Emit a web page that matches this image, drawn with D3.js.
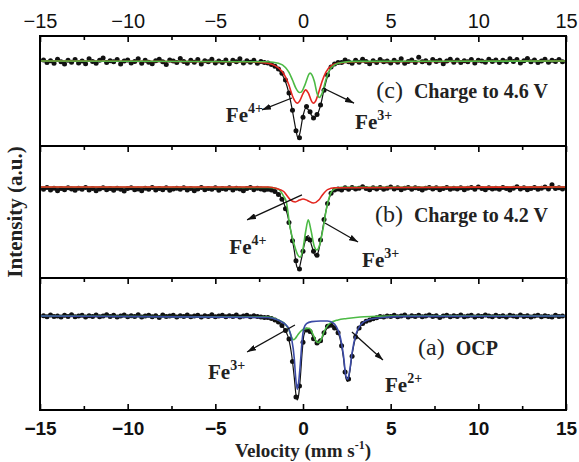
<!DOCTYPE html>
<html>
<head>
<meta charset="utf-8">
<script src="https://cdn.jsdelivr.net/npm/d3@7"></script>
<style>
body { margin: 0; background: #fff; }
.tick text { font-family: "Liberation Sans", Arial, sans-serif; }
.serif { font-family: "Liberation Serif", "Times New Roman", serif; }
</style>
</head>
<body>
<div id="chart"></div>
<script>
// channel velocities (mm/s)
var velocity = [
  -14.8,-14.6,-14.4,-14.2,-14,-13.8,-13.6,-13.4,-13.2,-13,
  -12.8,-12.6,-12.4,-12.2,-12,-11.8,-11.6,-11.4,-11.2,-11,
  -10.8,-10.6,-10.4,-10.2,-10,-9.8,-9.6,-9.4,-9.2,-9,
  -8.8,-8.6,-8.4,-8.2,-8,-7.8,-7.6,-7.4,-7.2,-7,
  -6.8,-6.6,-6.4,-6.2,-6,-5.8,-5.6,-5.4,-5.2,-5,
  -4.8,-4.6,-4.4,-4.2,-4,-3.8,-3.6,-3.4,-3.2,-3,
  -2.8,-2.6,-2.4,-2.2,-2,-1.8,-1.6,-1.4,-1.2,-1,
  -0.8,-0.6,-0.4,-0.2,0,0.2,0.4,0.6,0.8,1,
  1.2,1.4,1.6,1.8,2,2.2,2.4,2.6,2.8,3,
  3.2,3.4,3.6,3.8,4,4.2,4.4,4.6,4.8,5,
  5.2,5.4,5.6,5.8,6,6.2,6.4,6.6,6.8,7,
  7.2,7.4,7.6,7.8,8,8.2,8.4,8.6,8.8,9,
  9.2,9.4,9.6,9.8,10,10.2,10.4,10.6,10.8,11,
  11.2,11.4,11.6,11.8,12,12.2,12.4,12.6,12.8,13,
  13.2,13.4,13.6,13.8,14,14.2,14.4,14.6,14.8
];

// measured transmission (%), (c) charged to 4.6 V
var dotsC = [
  100.3,99.6,100.1,99.4,100.5,99.8,99.2,100.2,99.7,100.4,
  99.5,100.0,99.3,100.6,99.9,99.4,100.2,100.8,99.6,100.1,
  99.8,100.4,99.2,100.0,100.3,99.5,99.9,100.6,99.4,100.2,
  99.7,99.3,100.1,100.5,99.8,99.1,100.3,100.0,99.6,100.7,
  99.9,99.4,100.2,99.7,100.4,99.2,100.1,99.8,100.5,99.5,
  100.0,99.6,100.3,99.3,100.2,99.8,100.6,99.5,100.1,99.7,
  100.2,99.4,99.9,99.6,99.5,99.1,98.6,97.9,96.8,95.0,
  91.6,87.0,81.6,79.8,85.2,88.0,86.6,85.0,85.9,88.4,
  92.3,96.3,98.4,99.2,99.6,99.6,100.3,99.8,99.4,100.2,
  99.7,100.5,99.9,99.3,100.1,99.6,100.4,99.8,100.0,99.5,
  100.2,99.7,100.6,99.4,99.9,100.3,99.6,101.0,99.8,100.1,
  99.5,100.4,99.9,100.2,99.3,100.0,100.5,99.7,100.3,99.6,
  100.1,99.8,100.4,99.5,100.2,100.0,99.7,100.5,99.9,100.3,
  99.6,100.2,99.8,100.6,99.9,100.4,99.5,100.1,100.7,99.8,
  100.3,99.6,100.0,100.5,99.7,100.2,99.9,100.4,99.8
];

// (b) charged to 4.2 V
var dotsB = [
  99.4,99.9,99.2,99.7,99.0,99.6,99.3,99.8,99.5,99.1,
  99.7,99.4,99.9,99.2,99.6,99.0,99.5,99.8,99.3,99.6,
  99.1,99.7,99.4,98.9,99.6,99.8,99.3,99.5,99.0,99.7,
  99.4,99.9,99.2,99.6,99.3,99.8,99.1,99.5,99.7,99.4,
  99.8,99.2,99.6,99.0,99.5,99.9,99.3,99.6,99.4,99.8,
  99.1,99.6,99.4,99.8,99.2,99.7,99.5,99.0,99.6,99.9,
  99.3,99.7,99.5,99.2,99.4,99.2,98.8,98.0,96.7,94.2,
  90.5,85.6,80.2,78.0,82.8,86.2,85.8,82.8,81.7,85.8,
  91.3,95.6,98.3,99.2,99.5,99.2,99.8,99.4,99.9,99.5,
  99.7,100.1,99.6,99.3,99.8,99.5,99.9,99.4,99.7,100.0,
  99.5,99.8,99.3,99.7,99.9,99.4,99.8,99.6,99.2,99.7,
  99.9,99.5,99.8,99.3,99.6,99.9,99.4,99.7,99.5,99.8,
  99.3,99.7,99.9,99.4,100.0,99.6,99.3,99.8,99.5,99.7,
  99.4,99.9,99.6,99.2,99.7,100.1,99.5,99.8,99.3,99.6,
  99.9,99.4,99.7,100.0,99.5,100.6,99.6,99.8,99.5
];

// (a) OCP
var dotsA = [
  100.1,99.8,100.3,99.9,100.0,99.7,100.2,99.9,100.4,99.8,
  100.0,100.2,99.7,100.1,99.9,100.3,99.8,100.0,100.4,99.9,
  100.2,99.7,100.0,100.3,99.8,100.1,99.9,100.4,99.7,100.0,
  100.2,99.8,100.1,99.6,100.3,99.9,100.0,100.2,99.7,100.1,
  99.9,100.3,99.8,100.0,100.2,99.7,100.1,99.9,100.4,99.8,
  100.0,100.2,99.8,100.1,99.9,100.3,99.7,100.0,100.2,99.8,
  100.1,99.9,99.7,99.6,99.6,99.3,98.9,98.3,97.3,95.9,
  93.4,87.0,76.8,80.0,92.5,96.0,95.6,93.5,92.3,92.9,
  95.2,97.1,97.4,96.6,95.2,91.5,84.0,82.0,88.5,94.0,
  96.6,97.9,98.5,98.9,99.2,99.5,99.9,99.7,100.0,99.9,
  100.2,99.8,100.0,100.3,99.7,100.1,99.9,100.2,99.8,100.0,
  100.3,99.9,100.1,99.6,100.0,100.2,99.8,100.1,99.9,100.3,
  99.8,100.0,100.2,99.7,100.1,99.9,100.3,100.0,99.8,100.2,
  99.9,100.1,99.7,100.2,100.0,99.8,100.3,99.9,100.1,99.7,
  100.0,100.2,99.8,100.1,99.9,99.7,100.2,99.9,100.0
];

// fitted curves, [velocity, transmission %]
var fitC = [[-15,100],[-3,99.8],[-2,99.4],[-1.6,98.6],[-1.2,96.5],[-1,94.6],[-0.8,91.4],[-0.6,86.8],[-0.4,81.8],[-0.3,79.8],[-0.2,80.6],[0,85.5],[0.15,87.5],[0.3,87.2],[0.5,85.6],[0.65,85],[0.8,85.7],[1,88.3],[1.2,92.5],[1.4,96],[1.6,98.2],[2,99.3],[3,99.8],[15,100]];
var redC = [[-15,100],[-3,99.8],[-2,99.4],[-1.6,98.8],[-1.2,97.3],[-1,95.8],[-0.8,93.6],[-0.6,90.8],[-0.4,89.1],[-0.3,88.9],[-0.2,89.4],[0,91.4],[0.15,92.4],[0.3,91.6],[0.5,89.3],[0.6,88.9],[0.7,89.3],[0.9,91.8],[1.1,94.8],[1.3,97],[1.6,98.7],[2,99.4],[3,99.8],[15,100]];
var greenC = [[-15,100],[-2,99.8],[-1.4,99.4],[-1,98.3],[-0.8,97],[-0.6,95],[-0.4,92.8],[-0.2,91.7],[-0.1,91.8],[0.1,93.6],[0.4,96.8],[0.65,94.6],[0.8,91.5],[0.93,90.4],[1.1,91.6],[1.3,95],[1.5,97.5],[1.8,99],[2.2,99.6],[3,99.9],[15,100]];

var fitB = [[-15,99.7],[-3,99.7],[-2,99.5],[-1.6,98.9],[-1.3,97.6],[-1.1,95.8],[-0.9,92.8],[-0.7,88.3],[-0.5,83],[-0.35,78.6],[-0.25,78],[-0.1,80.5],[0.1,85],[0.3,87],[0.5,84.2],[0.7,81.6],[0.85,82.3],[1.05,86.8],[1.25,92.2],[1.45,96.3],[1.7,98.7],[2.1,99.5],[3,99.7],[15,99.7]];
var redB = [[-15,100],[-2,100],[-1.5,99.6],[-1.1,98.8],[-0.9,97.6],[-0.7,96.5],[-0.44,96],[-0.2,96.5],[0,96.8],[0.25,96.4],[0.6,95.7],[0.9,96.5],[1.1,97.8],[1.4,99.3],[1.8,99.8],[15,100]];
var greenB = [[-15,100],[-2,99.9],[-1.5,99.6],[-1.3,99],[-1.1,97.5],[-0.95,96],[-0.75,89.5],[-0.5,84.5],[-0.3,81.8],[-0.16,81.2],[0,83.5],[0.15,88],[0.3,91.2],[0.45,88.5],[0.65,84],[0.8,83.1],[0.95,84.5],[1.15,89],[1.35,94.5],[1.55,98],[1.8,99.5],[2.2,99.9],[15,100]];

var fitA = [[-15,100],[-3,99.7],[-2,99.4],[-1.5,98.5],[-1.2,97.2],[-1,95.8],[-0.8,93.2],[-0.65,89],[-0.5,82.5],[-0.4,77.5],[-0.33,76],[-0.25,77.3],[-0.15,82.5],[-0.05,89.5],[0.05,94.5],[0.2,96],[0.35,96],[0.55,94.3],[0.75,92.5],[0.87,92.2],[1,92.7],[1.2,95],[1.45,97],[1.65,97.4],[1.9,96.3],[2.1,93.8],[2.3,88.3],[2.45,82.2],[2.55,81.3],[2.65,83.5],[2.8,89],[3,94],[3.3,97.3],[3.7,98.7],[4.5,99.5],[6,99.9],[15,100]];
var greenA = [[-15,100],[-2,99.7],[-1.5,99.1],[-1.2,98.4],[-1,97.6],[-0.8,96],[-0.65,94],[-0.55,93.2],[-0.45,93.5],[-0.3,94.6],[-0.1,95.8],[0.15,96.4],[0.35,96.5],[0.55,95],[0.75,92.8],[0.87,92.4],[1,93],[1.2,95.5],[1.5,97.8],[2,98.9],[2.5,99.3],[3,99.6],[3.5,99.8],[5,100],[15,100]];
var blueA = [[-15,100],[-2,99.6],[-1.5,99],[-1.2,98.3],[-1,97.6],[-0.8,96.2],[-0.65,93.5],[-0.5,88],[-0.42,82.5],[-0.33,79],[-0.25,81],[-0.15,86.5],[-0.05,93],[0.05,96.5],[0.2,97.8],[0.5,98.4],[1,98.6],[1.4,98.6],[1.7,98.1],[1.9,97],[2.1,94.5],[2.3,89],[2.45,82.8],[2.55,81.9],[2.65,84],[2.8,89.5],[3,94.5],[3.3,97.6],[3.7,98.9],[4.5,99.6],[6,99.9],[15,100]];

var majorTicks = [-15, -10, -5, 0, 5, 10, 15];
var minorTicks = [-12.5, -7.5, -2.5, 2.5, 7.5, 12.5];

var green = "#4cba45", red = "#e3261f", blue = "#3b4aa6";

var width = 579, height = 462;
var svg = d3.select("#chart").append("svg")
  .attr("width", width)
  .attr("height", height);

var defs = svg.append("defs");
defs.append("marker")
  .attr("id", "arrow")
  .attr("viewBox", "0 0 9 6")
  .attr("refX", 9).attr("refY", 3)
  .attr("markerWidth", 9).attr("markerHeight", 6)
  .attr("markerUnits", "userSpaceOnUse")
  .attr("orient", "auto")
  .append("path")
  .attr("d", "M0,0L9,3L0,6Z")
  .attr("fill", "#111");

var xScale = d3.scaleLinear().domain([-15, 15]).range([40, 566]);

var panels = [
  { top: 36, bottom: 146, domain: [77.6, 106.6], dots: dotsC,
    curves: [[fitC, "#111", 1.2], [redC, red, 1.6], [greenC, green, 1.6]],
    tag: "(c)", title: "Charge to 4.6 V", tagAt: [13.97, 90.3],
    labels: [{ t: "4+", at: [-4.4, 84.0], from: [-0.63, 90.25], to: [-2.34, 87.1] },
             { t: "3+", at: [2.97, 82.0], from: [1.14, 92.9], to: [2.91, 88.9] }] },
  { top: 146, bottom: 278, domain: [75.6, 111], dots: dotsB,
    curves: [[fitB, "#111", 1.2], [greenB, green, 1.6], [redB, red, 1.6]],
    tag: "(b)", title: "Charge to 4.2 V", tagAt: [13.97, 90.6],
    labels: [{ t: "4+", at: [-4.2, 82.0], from: [-0.06, 97.9], to: [-3.19, 91.2] },
             { t: "3+", at: [3.37, 78.6], from: [1.25, 90.35], to: [3.14, 85.25] }] },
  { top: 278, bottom: 410, domain: [73.1, 110.9], dots: dotsA,
    curves: [[fitA, "#111", 1.2], [greenA, green, 1.6], [blueA, blue, 1.6]],
    tag: "(a)", title: "OCP", tagAt: [11.12, 88.85],
    labels: [{ t: "3+", at: [-5.42, 82.0], from: [-0.46, 97.44], to: [-3.19, 89.7] },
             { t: "2+", at: [4.68, 78.3], from: [2.79, 95.44], to: [4.56, 87.4] }] }
];

panels.forEach(function(p, i) {
  var yScale = d3.scaleLinear().domain(p.domain).range([p.bottom, p.top]);
  var g = svg.append("g");

  var line = d3.line()
    .x(function(d) { return xScale(d[0]); })
    .y(function(d) { return yScale(d[1]); })
    .curve(d3.curveMonotoneX);

  // data points
  g.selectAll("circle")
    .data(p.dots)
    .enter()
    .append("circle")
    .attr("cx", function(d, j) { return xScale(velocity[j]); })
    .attr("cy", function(d) { return yScale(d); })
    .attr("r", 2.5)
    .attr("fill", "#111");

  p.curves.forEach(function(c) {
    g.append("path")
      .attr("d", line(c[0]))
      .attr("fill", "none")
      .attr("stroke", c[1])
      .attr("stroke-width", c[2]);
  });

  // ticks on the top edge of each panel, pointing inward
  g.append("g")
    .attr("transform", "translate(0," + p.top + ")")
    .call(d3.axisTop(xScale).tickValues(majorTicks).tickSize(-6)
      .tickPadding(8).tickFormat(i == 0 ? d3.format("d") : ""))
    .call(function(a) {
      a.select(".domain").remove();
      a.selectAll("line").attr("stroke", "#000").attr("stroke-width", 1.6);
      a.selectAll("text").attr("font-size", 20).attr("fill", "#111");
    });
  g.append("g")
    .attr("transform", "translate(0," + p.top + ")")
    .call(d3.axisTop(xScale).tickValues(minorTicks).tickSize(-4).tickFormat(""))
    .call(function(a) {
      a.select(".domain").remove();
      a.selectAll("line").attr("stroke", "#000").attr("stroke-width", 1.6);
    });

  // panel title
  var tt = g.append("text")
    .attr("class", "serif")
    .attr("x", xScale(p.tagAt[0]))
    .attr("y", yScale(p.tagAt[1]))
    .attr("text-anchor", "end")
    .attr("fill", "#222");
  tt.append("tspan").attr("font-size", 24).text(p.tag);
  tt.append("tspan").attr("dx", 11).attr("font-size", 20).attr("font-weight", "bold").text(p.title);

  // iron site labels with arrows
  p.labels.forEach(function(l) {
    var t = g.append("text")
      .attr("class", "serif")
      .attr("x", xScale(l.at[0]))
      .attr("y", yScale(l.at[1]))
      .attr("font-weight", "bold")
      .attr("font-size", 21)
      .attr("fill", "#222");
    t.append("tspan").text("Fe");
    t.append("tspan").attr("dy", -9).attr("font-size", 14).text(l.t);

    g.append("line")
      .attr("x1", xScale(l.from[0])).attr("y1", yScale(l.from[1]))
      .attr("x2", xScale(l.to[0])).attr("y2", yScale(l.to[1]))
      .attr("stroke", "#111")
      .attr("stroke-width", 1.3)
      .attr("marker-end", "url(#arrow)");
  });
});

// bottom axis of panel (a)
var last = panels[2];
svg.append("g")
  .attr("transform", "translate(0," + last.bottom + ")")
  .call(d3.axisBottom(xScale).tickValues(majorTicks).tickSize(-6).tickPadding(12).tickFormat(d3.format("d")))
  .call(function(a) {
    a.select(".domain").remove();
    a.selectAll("line").attr("stroke", "#000").attr("stroke-width", 1.6);
    a.selectAll("text").attr("font-size", 19).attr("font-weight", "bold").attr("fill", "#111");
  });
svg.append("g")
  .attr("transform", "translate(0," + last.bottom + ")")
  .call(d3.axisBottom(xScale).tickValues(minorTicks).tickSize(-4).tickFormat(""))
  .call(function(a) {
    a.select(".domain").remove();
    a.selectAll("line").attr("stroke", "#000").attr("stroke-width", 1.6);
  });

// frame and panel dividers
svg.append("rect")
  .attr("x", xScale(-15)).attr("y", panels[0].top)
  .attr("width", xScale(15) - xScale(-15))
  .attr("height", last.bottom - panels[0].top)
  .attr("fill", "none")
  .attr("stroke", "#000")
  .attr("stroke-width", 2);
[panels[1].top, panels[2].top].forEach(function(y) {
  svg.append("line")
    .attr("x1", xScale(-15)).attr("x2", xScale(15))
    .attr("y1", y).attr("y2", y)
    .attr("stroke", "#000").attr("stroke-width", 2);
});

// axis titles
var xt = svg.append("text")
  .attr("class", "serif")
  .attr("x", xScale(0))
  .attr("y", 457)
  .attr("text-anchor", "middle")
  .attr("font-size", 19)
  .attr("font-weight", "bold")
  .attr("fill", "#222");
xt.append("tspan").text("Velocity (mm s");
xt.append("tspan").attr("dy", -8).attr("font-size", 12).text("-1");
xt.append("tspan").attr("dy", 8).text(")");

svg.append("text")
  .attr("class", "serif")
  .attr("transform", "translate(15,212) rotate(-90)")
  .attr("dy", "0.35em")
  .attr("text-anchor", "middle")
  .attr("font-size", 21)
  .attr("font-weight", "bold")
  .attr("fill", "#222")
  .text("Intensity (a.u.)");
</script>
</body>
</html>
